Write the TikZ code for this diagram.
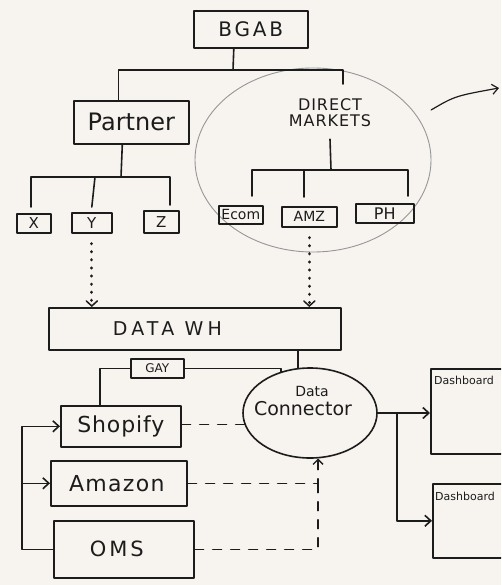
\documentclass[tikz,border=0pt]{standalone}
\usepackage{fontspec}
\setmainfont{DejaVu Sans}
\usetikzlibrary{arrows.meta,shapes.geometric}
\definecolor{board}{RGB}{247,244,240}
\definecolor{inkc}{RGB}{28,28,28}
\definecolor{faint}{RGB}{150,150,150}
\begin{document}
\begin{tikzpicture}[x=1pt,y=-1pt,
  ink/.style={line width=1.6pt,draw=inkc,line cap=round,line join=round},
  box/.style={ink,rectangle,inner sep=0pt,anchor=north west,text=inkc},
  lbl/.style={inner sep=0pt,text=inkc,align=center},
  arr/.style={ink,-{Straight Barb[length=6pt,width=11pt]}},
  dotarr/.style={line width=3.2pt,draw=inkc,line cap=round,dash pattern=on 0.1pt off 8pt,
     -{Straight Barb[length=5pt,width=11pt,line width=1.5pt,line cap=round]}},
  dashl/.style={line width=1.4pt,draw=inkc,line cap=round,dash pattern=on 9pt off 9pt},
  dasharr/.style={dashl,-{Straight Barb[length=5pt,width=10pt,line width=1.4pt]}},
  fnt/.style={font=\fontsize{#1}{#1}\selectfont}]
\useasboundingbox (0,0) rectangle (501,585);
\clip (0,0) rectangle (501,585);
\fill[board] (0,0) rectangle (501,585);

% direct markets ellipse (faint)
\node[ellipse,draw=faint,line width=0.9pt,minimum width=236pt,minimum height=184pt,inner sep=0pt] (dmk) at (313,160) {};

% top level
\node[box,minimum width=114pt,minimum height=37pt,fnt=20] (bgab) at (193,10) {\addfontfeature{LetterSpace=14}BGAB};
\node[box,minimum width=115pt,minimum height=43pt,fnt=24] (partner) at (73,100) {Partner};
\node[lbl,fnt=16] (dmtext) at (330,113) {\addfontfeature{LetterSpace=6}DIRECT\\\addfontfeature{LetterSpace=6}MARKETS};
\coordinate (j1) at (233,70);
\coordinate (dmtop) at (343,84);
\draw[ink] ([xshift=-17pt]bgab.south) -- (j1);
\draw[ink] (j1) -| ([xshift=-13pt]partner.north);
\draw[ink] (j1) -| (dmtop);

% partner children
\node[box,minimum width=34pt,minimum height=19pt,fnt=15] (xb) at (16,213) {X};
\node[box,minimum width=40pt,minimum height=20pt,fnt=15] (yb) at (71,212) {Y};
\node[box,minimum width=35pt,minimum height=22pt,fnt=15] (zb) at (143,210) {Z};
\coordinate (j2) at (121,177);
\draw[ink] ([xshift=-9pt]partner.south) -- (j2);
\draw[ink] (xb.north) ++(-3,-6) |- (j2) -| (170,205);
\draw[ink] (yb.north) ++(0,-5) -- (95,177);

% direct market children
\node[box,minimum width=44pt,minimum height=18pt,fnt=14] (ecom) at (218,205) {Ecom};
\node[box,minimum width=55pt,minimum height=20pt,fnt=14] (amz) at (281,206) {AMZ};
\node[box,minimum width=58pt,minimum height=19pt,fnt=16] (ph) at (355,203) {PH};
\coordinate (j3) at (331,170);
\draw[ink] (dmtext.south) ++(0,12) -- (j3);
\draw[ink] (252,196) |- (j3) -| (408,196);
\draw[ink] (304,197) -- (304,170);

% arrow leaving to the right
\coordinate (offr) at (499,88);
\draw[ink,line width=1.2pt,shorten <=15pt,-{Straight Barb[length=6pt,width=10pt]}] (dmk.22) .. controls (455,96) .. (offr);

% data warehouse
\node[box,minimum width=292pt,minimum height=42pt,fnt=19] (dwh) at (48,307) {\addfontfeature{LetterSpace=22}DATA WH\hspace*{55pt}};
\draw[dotarr] (yb.south) ++(0,10) -- (yb.south |- dwh.north);
\draw[dotarr] (amz.south) ++(0,10) -- (amz.south |- dwh.north);

% data connector
\node[ellipse,ink,minimum width=134pt,minimum height=90pt,inner sep=0pt] (dc) at (310,413) {};
\node[lbl,fnt=14] (dctext1) at (312,391) {Data};
\node[lbl,fnt=19] (dctext2) at (303,409) {Connector};
\draw[ink] (dc.105) -- (dc.105 |- dwh.south);

% sources
\node[box,minimum width=120pt,minimum height=41pt,fnt=22] (shop) at (60,405) {\addfontfeature{LetterSpace=4}Shopify};
\node[box,minimum width=136pt,minimum height=45pt,fnt=22] (amazon) at (50,460) {\addfontfeature{LetterSpace=6}Amazon\hspace*{4pt}};
\node[box,minimum width=140pt,minimum height=57pt,fnt=21] (oms) at (53,520) {\addfontfeature{LetterSpace=14}OMS\hspace*{14pt}};
\node[box,minimum width=53pt,minimum height=19pt,fnt=12] (gay) at (130,358) {GAY};
\draw[ink] (shop.north west) ++(40,0) |- (gay.west);
\draw[ink] (gay.east) -| (dc.125);

% left feed bracket
\coordinate (lb) at (22,0);
\draw[arr] (oms.west) -| (lb |- shop.west) -- (shop.west);
\draw[arr] (lb |- amazon.west) -- (amazon.west);

% dashed links
\draw[dashl] (shop.east |- dc.190) -- (dc.190);
\draw[dasharr] (amazon.east) -| (dc.280);
\draw[dashl] (oms.east) -| (dc.280 |- amazon.east);

% dashboards
\node[box,minimum width=100pt,minimum height=85pt] (db1) at (430,368) {};
\node[box,minimum width=100pt,minimum height=74pt] (db2) at (432,483) {};
\node[lbl,anchor=north west,fnt=11] (db1t) at ([xshift=4pt,yshift=-8pt]db1.north west) {Dashboard};
\node[lbl,anchor=north west,fnt=11] (db2t) at ([xshift=3pt,yshift=-9pt]db2.north west) {Dashboard};
\draw[arr] (dc.east) -- (dc.east -| db1.west);
\draw[arr] (dc.east) ++(19,0) |- (db2.west);
\end{tikzpicture}
\end{document}
